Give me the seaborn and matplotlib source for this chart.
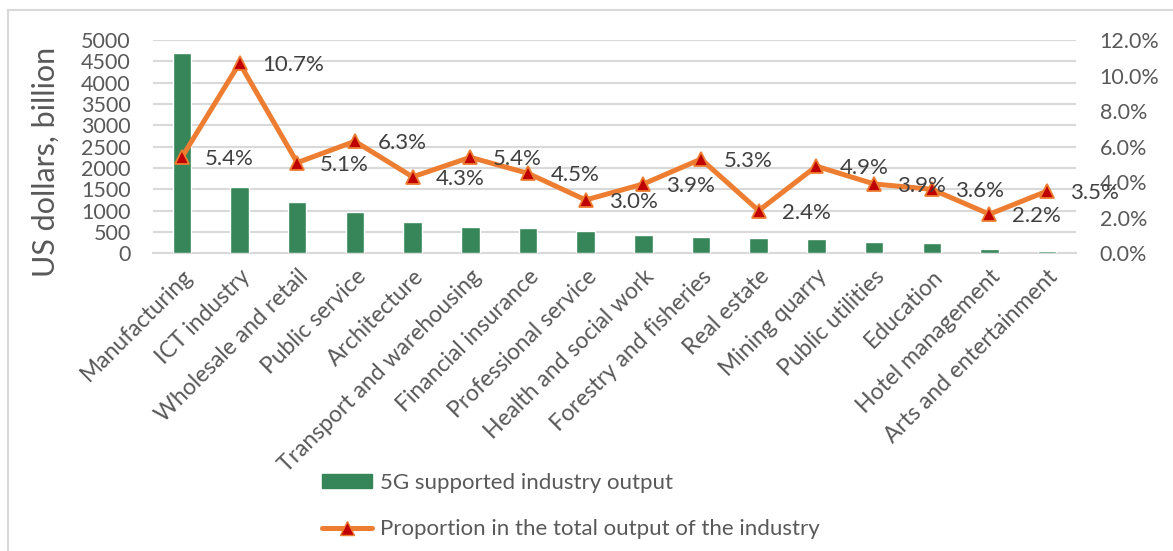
import matplotlib
matplotlib.use("Agg")
import matplotlib.pyplot as plt
from matplotlib.patches import Patch, Rectangle
from matplotlib.lines import Line2D
from matplotlib.ticker import FuncFormatter, MultipleLocator
import seaborn as sns
import pandas as pd

# Industries and their values
industries = [
    "Manufacturing", "ICT industry", "Wholesale and retail", "Public service",
    "Architecture", "Transport and warehousing", "Financial insurance",
    "Professional service", "Health and social work", "Forestry and fisheries",
    "Real estate", "Mining quarry", "Public utilities", "Education",
    "Hotel management", "Arts and entertainment",
]
output_usd_bn = [4690, 1560, 1200, 975, 725, 620, 600, 525, 430, 385,
                 355, 330, 260, 245, 110, 55]
share_pct = [5.4, 10.7, 5.1, 6.3, 4.3, 5.4, 4.5, 3.0, 3.9, 5.3,
             2.4, 4.9, 3.9, 3.6, 2.2, 3.5]

bar_label = "5G supported industry output"
line_label = "Proportion in the total output of the industry"

GREEN = "#37865A"
ORANGE = "#ED7D31"
RED = "#C00000"
GRID = "#D9D9D9"
TICK = "#595959"
TEXT = "#404040"

sns.set_theme(style="white")
plt.rcParams["font.family"] = ["Lato", "DejaVu Sans"]

df = pd.DataFrame({"industry": industries, "output": output_usd_bn, "share": share_pct})

W, H = 1173, 551
fig = plt.figure(figsize=(W / 100, H / 100), dpi=100)
ax = fig.add_axes([153 / W, 1 - 253.3 / H, (1076 - 153) / W, (253.3 - 40) / H])

# Light frame around the chart area
fig.patches.append(Rectangle((8 / W, -0.1), 1.2, 1 - 10 / H + 0.1, transform=fig.transFigure,
                             fill=False, edgecolor="#D9D9D9", linewidth=1.5, zorder=0))

sns.barplot(data=df, x="industry", y="output", color=GREEN, saturation=1,
            width=0.32, ax=ax, zorder=3)

ax.set_ylim(0, 5000)
ax.yaxis.set_major_locator(MultipleLocator(500))
ax.yaxis.grid(True, color=GRID, linewidth=1.5, zorder=0)
ax.set_axisbelow(True)
for side in ["top", "right", "left"]:
    ax.spines[side].set_visible(False)
ax.spines["bottom"].set_color(GRID)
ax.spines["bottom"].set_linewidth(1.5)
ax.tick_params(axis="both", length=0, colors=TICK)
ax.tick_params(axis="y", pad=16, labelsize=15.5)
ax.set_xlabel("")
ax.set_ylabel("US dollars, billion", fontsize=22, color=TICK)
ax.yaxis.set_label_coords((60 - 153) / 923, 0.43)
ax.set_xticks(range(len(industries)))
ax.set_xticklabels(industries, rotation=45, ha="right", rotation_mode="anchor",
                   color=TICK, fontsize=16.5)
ax.tick_params(axis="x", pad=9)

ax2 = ax.twinx()
sns.pointplot(data=df, x="industry", y="share", ax=ax2, color=ORANGE,
              markers="^", linestyles="-", markersize=10.5,
              markerfacecolor=RED, markeredgecolor=ORANGE, markeredgewidth=1.3,
              linewidth=3.6, errorbar=None, zorder=5)
ax2.set_ylim(0, 12)
ax2.yaxis.set_major_locator(MultipleLocator(2))
ax2.yaxis.set_major_formatter(FuncFormatter(lambda v, _: f"{v:.1f}%"))
ax2.tick_params(axis="y", length=0, colors=TICK, labelsize=15.5, pad=17)
ax2.set_ylabel("")
ax2.set_xlabel("")
for side in ["top", "right", "left", "bottom"]:
    ax2.spines[side].set_visible(False)
ax2.grid(False)
ax.set_xlim(-0.5, len(industries) - 0.5)
ax2.set_xlim(-0.5, len(industries) - 0.5)

# Value labels to the right of each point
for i, v in enumerate(share_pct):
    ax2.annotate(f"{v:.1f}%", (i, v), xytext=(23, -2), textcoords="offset pixels",
                 ha="left", va="center", fontsize=16, color=TEXT, zorder=6)

handles = [
    Patch(facecolor=GREEN, edgecolor=GREEN),
    Line2D([0], [0], color=ORANGE, linewidth=3.6, marker="^", markersize=10.5,
           markerfacecolor=RED, markeredgecolor=ORANGE),
]
fig.legend(handles, [bar_label, line_label], loc="upper left",
           bbox_to_anchor=(322 / W, 1 - 473 / H), frameon=False, borderpad=0,
           borderaxespad=0, handlelength=2.25, handleheight=0.55, handletextpad=0.36,
           labelspacing=1.16, fontsize=16, labelcolor=TICK)

fig.savefig("out.png", dpi=100)
